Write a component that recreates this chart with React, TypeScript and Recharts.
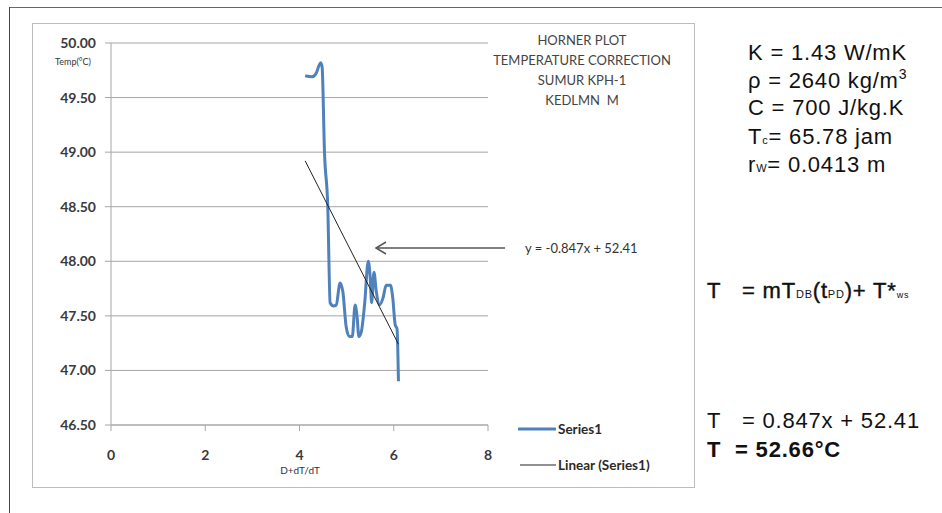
import React from 'react';
import { LineChart, Line, XAxis, YAxis, CartesianGrid } from 'recharts';

const seriesX = [4.12, 4.26, 4.35, 4.45, 4.48, 4.53, 4.6, 4.65, 4.72, 4.78, 4.86, 4.92, 4.99, 5.06, 5.12, 5.18, 5.22, 5.26, 5.31, 5.38, 5.46, 5.5, 5.53, 5.58, 5.63, 5.7, 5.77, 5.84, 5.93, 5.98, 6.03, 6.07, 6.1];
const seriesY = [49.7, 49.69, 49.72, 49.82, 49.78, 49.0, 48.5, 47.62, 47.59, 47.6, 47.8, 47.72, 47.4, 47.31, 47.31, 47.6, 47.5, 47.31, 47.35, 47.6, 48.0, 47.85, 47.62, 47.9, 47.72, 47.6, 47.66, 47.78, 47.78, 47.66, 47.42, 47.38, 46.9];
const trendX = [4.12, 6.1];
const trendY = [48.92, 47.24];
const xTicks = [0, 2, 4, 6, 8];
const yTicks = [46.5, 47, 47.5, 48, 48.5, 49, 49.5, 50];
const titleLines = ['HORNER PLOT', 'TEMPERATURE CORRECTION', 'SUMUR KPH-1', 'KEDLMN\u00a0\u00a0M'];
const legendNames = ['Series1', 'Linear (Series1)'];

const seriesData = seriesX.map((x, i) => ({ x, y: seriesY[i] }));
const trendData = trendX.map((x, i) => ({ x, y: trendY[i] }));

const tickStyle = { fill: '#3a3a3a', fontSize: 14, fontWeight: 700, fontFamily: 'Lato' };

const ar = { fontFamily: 'Liberation Sans, Arial', fill: '#111' };
const sp = '\u00a0';

export default function App() {
  return (
    <div style={{ position: 'fixed', left: 0, top: 0, width: 942, height: 513, background: '#fff', overflow: 'hidden' }}>
      <div style={{ position: 'absolute', left: 9, top: 7, width: 940, height: 1, background: '#666' }} />
      <div style={{ position: 'absolute', left: 9, top: 7, width: 1, height: 510, background: '#444' }} />
      <div style={{ position: 'absolute', left: 32, top: 23, width: 661, height: 463, border: '1px solid #bdbdbd' }} />
      <div style={{ position: 'absolute', left: 0, top: 0 }}>
        <LineChart width={942} height={513} margin={{ top: 43, left: 51, right: 454, bottom: 58 }}>
          <CartesianGrid vertical={false} stroke="#a6a6a6" strokeWidth={1} />
          <XAxis
            type="number"
            dataKey="x"
            domain={[0, 8]}
            ticks={xTicks}
            height={30}
            tickSize={6}
            tickMargin={19}
            stroke="#a6a6a6"
            tick={tickStyle}
            allowDuplicatedCategory={false}
          />
          <YAxis
            type="number"
            dataKey="y"
            domain={[46.5, 50]}
            ticks={yTicks}
            width={60}
            tickSize={6}
            tickMargin={9}
            stroke="#a6a6a6"
            tick={tickStyle}
            tickFormatter={(v: number) => v.toFixed(2)}
          />
          <Line
            data={seriesData}
            dataKey="y"
            name="Series1"
            type="monotone"
            stroke="#4F81BD"
            strokeWidth={3}
            dot={false}
            isAnimationActive={false}
          />
          <Line
            data={trendData}
            dataKey="y"
            name="Linear (Series1)"
            type="linear"
            stroke="#222"
            strokeWidth={1}
            dot={false}
            isAnimationActive={false}
          />
        </LineChart>
      </div>
      <svg width={942} height={513} style={{ position: 'absolute', left: 0, top: 0, pointerEvents: 'none' }}>
        <text x={73} y={65} textAnchor="middle" fontFamily="Lato" fontSize={9} fill="#333">Temp(°C)</text>
        <text x={300} y={474} textAnchor="middle" fontFamily="Lato" fontSize={10} fill="#333">D+dT/dT</text>
        {titleLines.map((t, i) => (
          <text key={t} x={582} y={45 + i * 20} textAnchor="middle" fontFamily="Lato" fontSize={13} fill="#444">{t}</text>
        ))}
        <line x1={518} y1={429} x2={556} y2={429} stroke="#4F81BD" strokeWidth={3} />
        <line x1={520} y1={465} x2={556} y2={465} stroke="#222" strokeWidth={1} />
        <text x={558} y={434} fontFamily="Lato" fontWeight={700} fontSize={13.5} fill="#2a2a2a">{legendNames[0]}</text>
        <text x={558} y={470} fontFamily="Lato" fontWeight={700} fontSize={13.5} fill="#2a2a2a">{legendNames[1]}</text>
        <line x1={376} y1={248} x2={505} y2={248} stroke="#555" strokeWidth={1.5} />
        <polyline points="386,242 376,248 386,254" fill="none" stroke="#555" strokeWidth={1.5} />
        <text x={525} y={253} fontFamily="Lato" fontSize={13} fill="#333">y = -0.847x + 52.41</text>
        <g {...ar} fontSize={22} letterSpacing={0.8}>
          <text x={748} y={60}>K = 1.43 W/mK</text>
          <text x={748} y={88}>ρ = 2640 kg/m<tspan fontSize={14} dy={-9}>3</tspan></text>
          <text x={748} y={115}>C = 700 J/kg.K</text>
          <text x={748} y={144}>T<tspan fontSize={11}>c</tspan>= 65.78 jam</text>
          <text x={748} y={172}>r<tspan fontSize={11}>W</tspan>= 0.0413 m</text>
          <text x={707} y={298} stroke="#111" strokeWidth={0.4}>{`T${sp}${sp}${sp}= mT`}<tspan fontSize={11} strokeWidth={0}>DB</tspan>(t<tspan fontSize={11} strokeWidth={0}>PD</tspan>)+ T*<tspan fontSize={9} strokeWidth={0}>ws</tspan></text>
          <text x={707} y={428}>{`T${sp}${sp}${sp}= 0.847x + 52.41`}</text>
          <text x={707} y={457} fontWeight={700}>{`T${sp}${sp}= 52.66°C`}</text>
        </g>
      </svg>
    </div>
  );
}
